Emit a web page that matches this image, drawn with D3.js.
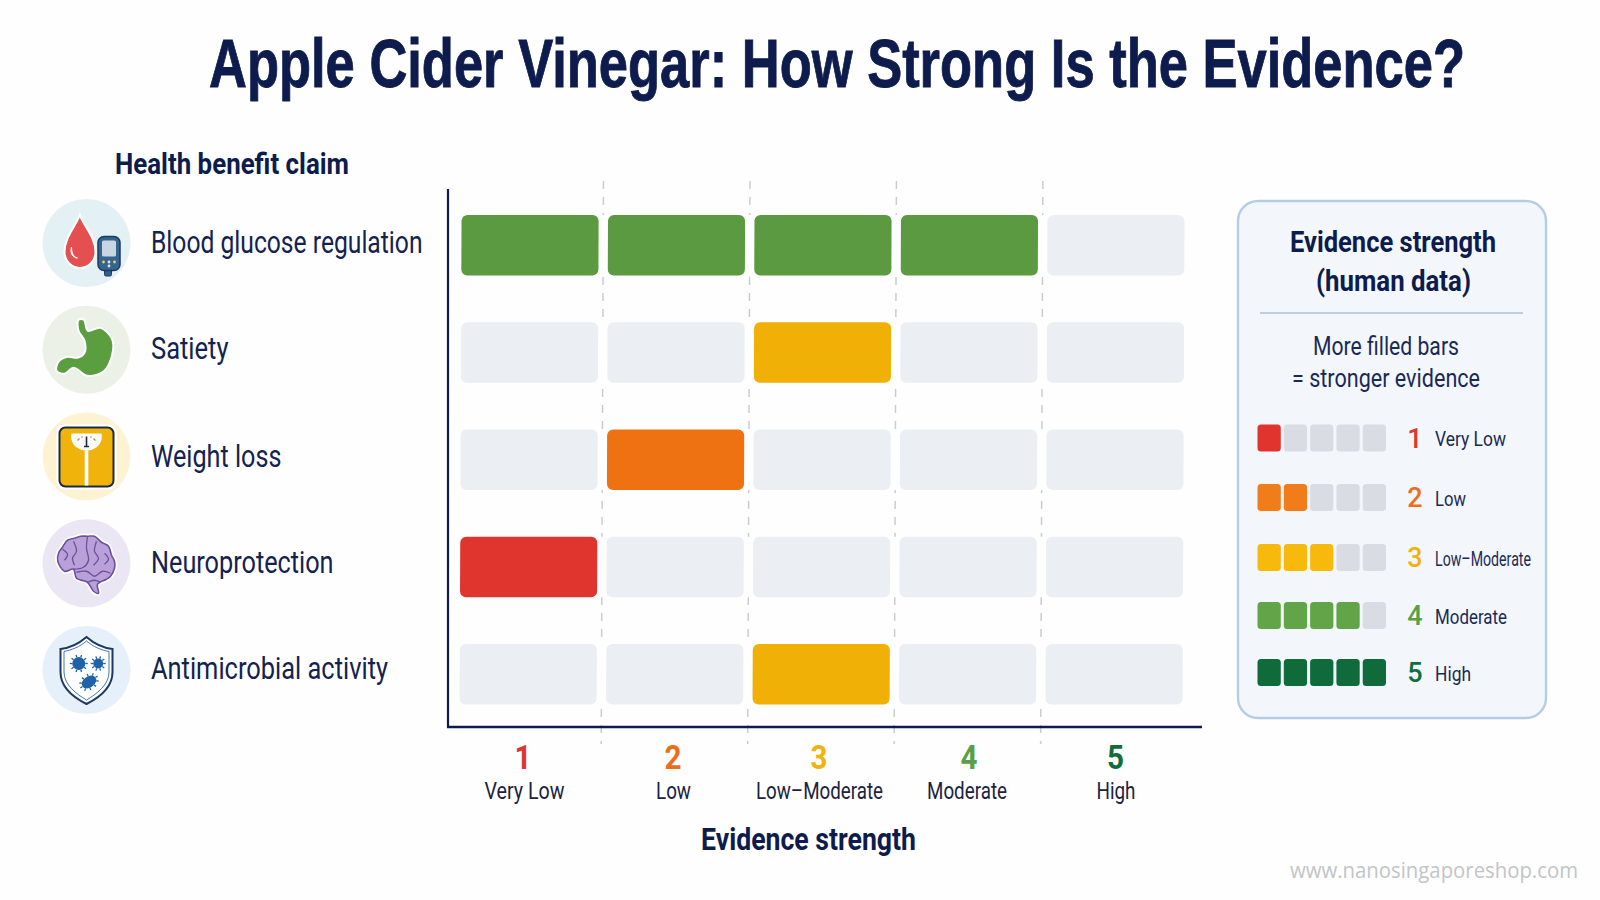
<!DOCTYPE html>
<html lang="en">
<head>
<meta charset="utf-8">
<title>Apple Cider Vinegar: How Strong Is the Evidence?</title>
<script src="https://cdn.jsdelivr.net/npm/d3@7/dist/d3.min.js"></script>
<style>
  html, body { margin: 0; padding: 0; background: #fefefe; overflow: hidden; }
  svg { display: block; }
  text { font-family: Roboto, "Liberation Sans", sans-serif; }
</style>
</head>
<body>
<svg id="chart" width="1600" height="900"></svg>
<script>
// Chart data
const claims = ["Blood glucose regulation", "Satiety", "Weight loss", "Neuroprotection", "Antimicrobial activity"];
const scores = [4, 3, 2, 1, 3];
const filledFrom = [1, 3, 2, 1, 3];   // first filled level on each row
const levels = [1, 2, 3, 4, 5];
const levelNames = ["Very Low", "Low", "Low–Moderate", "Moderate", "High"];

// Styling
const levelColors = ["#e0342f", "#ee7212", "#f0b005", "#5b9a40", "#0f6b3a"];
const tickColors = ["#e0352f", "#ea6f1c", "#f0b20e", "#57a043", "#0f6e3c"];
const keyColors = ["#e2342f", "#f07c1a", "#f6b90c", "#62a548", "#0f6b3a"];
const iconTints = ["#e4f1f4", "#ebf1e6", "#fdf3d3", "#ebe6f3", "#e6f0fa"];
const navy = "#0d1c4c";
const ink = "#15234f";

const svg = d3.select("#chart");

// Writes one text line squeezed to a set width, which stands in for a condensed face
function label(parent, str, x, y, o) {
  const t = parent.append("text")
    .attr("x", x).attr("y", y)
    .attr("font-size", o.size)
    .attr("font-weight", o.weight || 400)
    .attr("fill", o.fill || ink)
    .attr("text-anchor", o.anchor || "start")
    .text(str);
  if (o.family) t.style("font-family", o.family);
  if (o.width) t.attr("textLength", o.width).attr("lengthAdjust", "spacingAndGlyphs");
  return t;
}

// Title, narrowed with a horizontal scale on its own group
const titleText = svg.append("g")
  .attr("transform", "translate(209,87) scale(0.79,1)")
  .append("text")
  .attr("font-size", 68).attr("font-weight", 700)
  .attr("fill", navy).attr("stroke", navy).attr("stroke-width", 0.9)
  .style("font-family", '"Liberation Sans", sans-serif')
  .text("Apple Cider Vinegar: How Strong Is the Evidence?");
const titleWidth = titleText.node().getComputedTextLength();
titleText.node().parentNode.setAttribute("transform", `translate(209,87) scale(${1256 / titleWidth},1)`);

label(svg, "Health benefit claim", 115, 174, { size: 29, weight: 700, fill: navy, width: 234 });

// Scales
const x = d3.scaleBand().domain(levels).range([461.5, 1184.5]).paddingInner(0.064);
const y = d3.scaleBand().domain(claims).range([215, 704.5]).paddingInner(0.436);
const tickX = d3.scaleOrdinal().domain(levels).range([522.5, 672.5, 818.5, 968.5, 1115]);
const nameX = d3.scaleOrdinal().domain(levels).range([524.5, 673.5, 819.5, 967, 1116]);
const iconY = d3.scalePoint().domain(claims).range([243, 670]);

// The grid leans very slightly to the left as it goes down
const plot = svg.append("g").attr("transform", "matrix(1,0,-0.004,1,0.9,0)");

// Dashed column separators
plot.selectAll("line.sep").data(levels.slice(1)).join("line")
  .attr("class", "sep")
  .attr("x1", d => x(d) - (x.step() - x.bandwidth()) / 2)
  .attr("x2", d => x(d) - (x.step() - x.bandwidth()) / 2)
  .attr("y1", 181).attr("y2", 744)
  .attr("stroke", "#c9cdd2").attr("stroke-width", 1.5).attr("stroke-dasharray", "8 8");

// Rows mask the separators behind the cells
plot.selectAll("rect.strip").data(claims).join("rect")
  .attr("class", "strip")
  .attr("x", x.range()[0]).attr("width", x.range()[1] - x.range()[0])
  .attr("y", d => y(d)).attr("height", y.bandwidth())
  .attr("fill", "#fefefe");

// Evidence cells
const rows = claims.map((claim, i) => ({ claim, score: scores[i], from: filledFrom[i] }));
const cells = rows.flatMap(r => levels.map(level => ({
  claim: r.claim, level, score: r.score, filled: level >= r.from && level <= r.score
})));
plot.selectAll("rect.cell").data(cells).join("rect")
  .attr("class", "cell")
  .attr("x", d => x(d.level))
  .attr("y", d => y(d.claim))
  .attr("width", x.bandwidth())
  .attr("height", y.bandwidth())
  .attr("rx", 6)
  .attr("fill", d => d.filled ? levelColors[d.score - 1] : "#ebeef2");

// Axis lines
svg.append("line").attr("x1", 448).attr("x2", 448).attr("y1", 189).attr("y2", 727.5)
  .attr("stroke", navy).attr("stroke-width", 2.2);

const xAxis = d3.axisBottom(tickX).tickSize(0).tickPadding(0).tickFormat(d => d);
const axisG = svg.append("g").attr("transform", "translate(0,727)").call(xAxis);
axisG.select(".domain").remove();
svg.append("line").attr("x1", 447).attr("x2", 1202).attr("y1", 727).attr("y2", 727)
  .attr("stroke", navy).attr("stroke-width", 2.4);

axisG.selectAll(".tick text")
  .attr("y", 42).attr("dy", 0)
  .attr("text-anchor", "middle")
  .attr("font-family", "Roboto, sans-serif")
  .attr("font-size", 34).attr("font-weight", 700)
  .attr("textLength", 17).attr("lengthAdjust", "spacingAndGlyphs")
  .attr("fill", d => tickColors[d - 1]);

const tickNameWidths = [80, 35, 127, 80, 39];
svg.selectAll("text.level-name").data(levels).join("text")
  .attr("class", "level-name")
  .attr("x", d => nameX(d)).attr("y", 799).attr("text-anchor", "middle")
  .attr("font-size", 23)
  .attr("fill", "#1a2340")
  .attr("textLength", d => tickNameWidths[d - 1])
  .attr("lengthAdjust", "spacingAndGlyphs")
  .text(d => levelNames[d - 1]);

label(svg, "Evidence strength", 701, 850, { size: 31, weight: 700, fill: navy, width: 215 });

// Claim names and their round badges
const claimWidths = [271.5, 77.5, 130.5, 182.5, 237];
const claimBaselines = [253, 358.5, 467, 573, 679];
claims.forEach((c, i) => {
  label(svg, c, 151, claimBaselines[i], { size: 32, fill: "#14224f", width: claimWidths[i] });
});

const badges = svg.selectAll("g.badge").data(claims).join("g")
  .attr("class", "badge")
  .attr("transform", d => `translate(86.5,${iconY(d)})`);
badges.append("circle").attr("r", 44).attr("fill", (d, i) => iconTints[i]);

const smooth = d3.line().curve(d3.curveCatmullRomClosed);
const smoothOpen = d3.line().curve(d3.curveCatmullRom);

// Blood drop and glucose meter
const drop = badges.filter((d, i) => i === 0);
drop.append("path")
  .attr("d", "M-6.7,-28 C-10,-18 -22,-6 -22,9 A15.5,16 0 0 0 9,9 C9,-6 -3.4,-18 -6.7,-28 Z")
  .attr("fill", "#e44f50").attr("stroke", "#fff").attr("stroke-width", 2);
drop.append("path").attr("d", "M-15,4 C-15,10 -13,14 -9,15 C-13,15 -17,11 -15,4 Z")
  .attr("fill", "#fff").attr("stroke", "#fff").attr("stroke-width", 1);
drop.append("rect").attr("x", 18).attr("y", 26).attr("width", 7).attr("height", 7).attr("rx", 1.5)
  .attr("fill", "#2f5f8a").attr("stroke", "#1b3a5f");
drop.append("rect").attr("x", 11.5).attr("y", -6.5).attr("width", 22).attr("height", 34).attr("rx", 6)
  .attr("fill", "#34658f").attr("stroke", "#1b3a5f").attr("stroke-width", 1.5);
drop.append("rect").attr("x", 15.5).attr("y", -2.5).attr("width", 14).attr("height", 16).attr("rx", 1.5)
  .attr("fill", "#c9d6e2");
drop.selectAll("circle.key").data([[17, 19, "#f3cc5a"], [22.5, 19, "#dfe5ea"], [28, 19, "#f3cc5a"], [22.5, 23, "#dfe5ea"]]).join("circle")
  .attr("class", "key").attr("cx", d => d[0]).attr("cy", d => d[1]).attr("r", 1.4).attr("fill", d => d[2]);

// Stomach
badges.filter((d, i) => i === 1).append("path")
  .attr("d", smooth([[-8,-30],[-2.5,-30],[1.3,-19],[14,-22],[25,-12],[26.5,1],[18,21],[1,26],[-13,18],[-22,24],[-30,21],[-28,12],[-19,7],[-9,8],[-2,3],[-2,-9],[-8,-19]]))
  .attr("fill", "#5a9e40").attr("stroke", "#fff").attr("stroke-width", 2);

// Bathroom scale
const scale = badges.filter((d, i) => i === 2);
scale.append("rect").attr("x", -30).attr("y", -32).attr("width", 60).attr("height", 65).attr("rx", 8).attr("fill", "#fff");
scale.append("rect").attr("x", -27).attr("y", -29).attr("width", 54).attr("height", 59).attr("rx", 6)
  .attr("fill", "#f0b30c").attr("stroke", "#1a2a44").attr("stroke-width", 2);
scale.append("path").attr("d", "M-15,-23 H15 C17,-14 10,-6 0,-6 C-10,-6 -17,-14 -15,-23 Z").attr("fill", "#fdfcf6");
scale.append("rect").attr("x", -1.8).attr("y", -6).attr("width", 3.6).attr("height", 35).attr("fill", "#fff");
scale.append("path").attr("d", "M0,-20 V-10 M-2.5,-10 H2.5").attr("stroke", "#1a2a44").attr("stroke-width", 1.6);
scale.append("path").attr("d", "M-9,-16 L-7,-18 M9,-16 L7,-18 M-5,-19 L-4,-20 M5,-19 L4,-20")
  .attr("stroke", "#8d8f8c").attr("stroke-width", 1.2);

// Brain
const brain = badges.filter((d, i) => i === 3);
const brainOutline = [[-28.7,-2],[-28,-10],[-24,-16],[-19,-23],[-12,-25],[-6,-27],[1,-27],[8,-27],[15,-21],[22,-17],[25,-8],[28,-2],[28,5],[24,13],[20,16],[11,21],[12,30],[7,28],[1,19],[-10,15],[-13,6],[-22,8]];
brain.append("path").attr("d", smooth(brainOutline)).attr("fill", "#fff").attr("stroke", "#fff").attr("stroke-width", 5);
brain.append("path").attr("d", smooth(brainOutline)).attr("fill", "#b8a1d8").attr("stroke", "#6d519c").attr("stroke-width", 1.6);
brain.selectAll("path.fold").data([
  [[1,-27],[0,-15],[2,-3],[-3,4],[-13,6]],
  [[-13,-22],[-10,-12],[-14,-5],[-12,2]],
  [[-24,-14],[-19,-9],[-22,-3]],
  [[10,-22],[8,-12],[12,-5],[7,2]],
  [[-10,9],[0,8],[8,13],[16,8],[24,10]],
  [[18,-10],[22,-4],[18,1]],
  [[1,19],[8,17],[14,19]]
]).join("path").attr("class", "fold")
  .attr("d", d => smoothOpen(d)).attr("fill", "none").attr("stroke", "#6d519c").attr("stroke-width", 1.3);

// Shield with microbes
const shield = badges.filter((d, i) => i === 4);
shield.append("path")
  .attr("d", "M0,-33 C8,-26 17,-22 26,-21 V2 C26,18 12,28 0,34 C-12,28 -26,18 -26,2 V-21 C-17,-22 -8,-26 0,-33 Z")
  .attr("fill", "#fff").attr("stroke", "#1e3763").attr("stroke-width", 2);
shield.append("path")
  .attr("d", "M0,-29 C7,-23 15,-20 22.5,-18.5 V2 C22.5,15 10,24 0,30 C-10,24 -22.5,15 -22.5,2 V-18.5 C-15,-20 -7,-23 0,-29 Z")
  .attr("fill", "none").attr("stroke", "#3f78b5").attr("stroke-width", 1);
[[-7.7, -6.5, 6.5, 6.5, 0], [11.7, -6.5, 5, 5, 0], [2.5, 12, 8, 5.5, -35]].forEach(([cx, cy, rx, ry, rot]) => {
  const germ = shield.append("g").attr("transform", `translate(${cx},${cy}) rotate(${rot})`);
  germ.append("ellipse").attr("rx", rx).attr("ry", ry).attr("fill", "#1f62a8");
  d3.range(0, 360, 36).forEach(a => {
    const c = Math.cos(a * Math.PI / 180), s = Math.sin(a * Math.PI / 180);
    germ.append("line")
      .attr("x1", c * rx).attr("y1", s * ry)
      .attr("x2", c * (rx + 2.5)).attr("y2", s * (ry + 2.5))
      .attr("stroke", "#1f62a8").attr("stroke-width", 1.3);
  });
});

// Key panel
svg.append("rect").attr("x", 1238).attr("y", 201).attr("width", 308).attr("height", 517).attr("rx", 20)
  .attr("fill", "#f3f7fc").attr("stroke", "#b4cde4").attr("stroke-width", 2.4);
label(svg, "Evidence strength", 1290, 252, { size: 29.5, weight: 700, fill: navy, width: 206 });
label(svg, "(human data)", 1316, 291, { size: 29.5, weight: 700, fill: navy, width: 155 });
svg.append("line").attr("x1", 1260).attr("x2", 1523).attr("y1", 313).attr("y2", 313)
  .attr("stroke", "#a9c2d8").attr("stroke-width", 1.6);
label(svg, "More filled bars", 1313, 355, { size: 26, fill: "#1a2a55", width: 146 });
label(svg, "= stronger evidence", 1292, 387, { size: 26, fill: "#1a2a55", width: 188 });

const keyRow = d3.scaleOrdinal().domain(levels).range([424.5, 484, 544, 602, 659]);
const keyCell = d3.scaleBand().domain(levels).range([1257.5, 1386]).paddingInner(0.115);
const keyNameWidths = [71, 31, 96, 72, 36];
const keyRows = svg.selectAll("g.key-row").data(levels).join("g")
  .attr("class", "key-row")
  .attr("transform", d => `translate(0,${keyRow(d)})`);
keyRows.selectAll("rect").data(d => levels.map(c => ({ row: d, c }))).join("rect")
  .attr("x", d => keyCell(d.c))
  .attr("width", keyCell.bandwidth())
  .attr("height", 27).attr("rx", 3.5)
  .attr("fill", d => d.c <= d.row ? keyColors[d.row - 1] : "#d9dde3");
keyRows.append("text")
  .attr("x", 1415).attr("y", 23).attr("text-anchor", "middle")
  .attr("font-size", 27).attr("font-weight", 500)
  .attr("fill", d => tickColors[d - 1])
  .text(d => d);
keyRows.append("text")
  .attr("x", 1435).attr("y", 21.5)
  .attr("font-size", 21).attr("fill", "#1a2a55")
  .attr("textLength", d => keyNameWidths[d - 1]).attr("lengthAdjust", "spacingAndGlyphs")
  .text(d => levelNames[d - 1]);

// Site address
label(svg, "www.nanosingaporeshop.com", 1290, 878, {
  size: 21, fill: "#c2c5c8", width: 288, family: '"Open Sans", sans-serif'
});
</script>
</body>
</html>
